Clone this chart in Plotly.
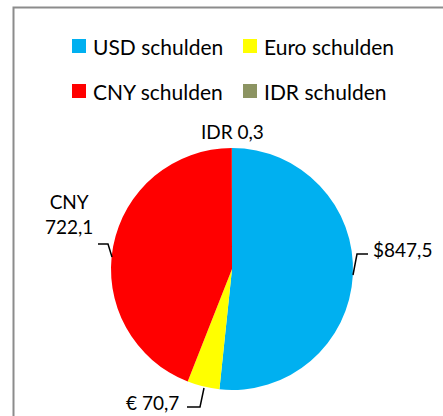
import plotly.graph_objects as go

W, H = 443, 416

# data
CURRENCIES = ["USD", "Euro", "CNY", "IDR"]
LEGEND_LABELS = ["USD schulden", "Euro schulden", "CNY schulden", "IDR schulden"]
VALUES = [847.5, 70.7, 722.1, 0.3]
LABEL_PREFIX = ["$", "€ ", "CNY<br>", "IDR "]
COLORS = ["#00B0F0", "#FFFF00", "#FF0000", "#8C9462"]

FONT = "Lato"
TXT = "#000000"


def px(x):
    return x / W


def py(y):
    return 1 - y / H


def fmt(v):
    return f"{v:.1f}".replace(".", ",")


fig = go.Figure()
fig.add_trace(go.Pie(
    labels=LEGEND_LABELS,
    values=VALUES,
    sort=False,
    direction="clockwise",
    rotation=0,
    marker=dict(colors=COLORS, line=dict(width=0)),
    textinfo="none",
    hoverinfo="label+value",
    domain=dict(x=[px(111), px(353)], y=[py(390), py(148)]),
    showlegend=False,
))

shapes = []
annotations = []

# chart border (cropped on right / bottom like the source)
shapes.append(dict(type="rect", xref="paper", yref="paper",
                   x0=px(13.5), x1=px(460), y0=py(440), y1=py(7.5),
                   line=dict(color="#8C8C8C", width=2), fillcolor="rgba(0,0,0,0)"))

# legend, 2 per row
leg_pos = [(72, 46), (243, 46), (72, 91), (243, 91)]
for (lx, ly), name, col in zip(leg_pos, LEGEND_LABELS, COLORS):
    shapes.append(dict(type="rect", xref="paper", yref="paper",
                       x0=px(lx), x1=px(lx + 14), y0=py(ly + 7), y1=py(ly - 7),
                       line=dict(width=0), fillcolor=col))
    annotations.append(dict(x=px(lx + 19), y=py(ly), xref="paper", yref="paper",
                            text=name, showarrow=False, xanchor="left", yanchor="middle",
                            font=dict(family=FONT, size=21, color=TXT)))

# data labels
lab_pos = [(371, 249, "left"), (181, 402, "right"), (69, 214, "center"), (232, 131, "center")]
for (lx, ly, anc), pre, v in zip(lab_pos, LABEL_PREFIX, VALUES):
    annotations.append(dict(x=px(lx), y=py(ly), xref="paper", yref="paper",
                            text=pre + fmt(v), showarrow=False, xanchor=anc, yanchor="middle",
                            font=dict(family=FONT, size=19, color=TXT)))

# leader lines
leaders = [
    [(368, 254), (357, 254), (353, 275)],
    [(187, 407), (200, 407), (204, 388)],
    [(98, 244), (108, 244), (112, 257)],
]
for pts in leaders:
    path = "M " + " L ".join(f"{px(x)},{py(y)}" for x, y in pts)
    shapes.append(dict(type="path", xref="paper", yref="paper", path=path,
                       line=dict(color="#000000", width=1.5)))

fig.update_layout(
    width=W, height=H,
    margin=dict(l=0, r=0, t=0, b=0),
    paper_bgcolor="white",
    plot_bgcolor="white",
    shapes=shapes,
    annotations=annotations,
    font=dict(family=FONT, color=TXT),
)

# drop the default 8px body margin so the figure sits at the page corner
fig.write_html("out.html", config={"displayModeBar": False},
               post_script="document.body.style.margin='0';")
